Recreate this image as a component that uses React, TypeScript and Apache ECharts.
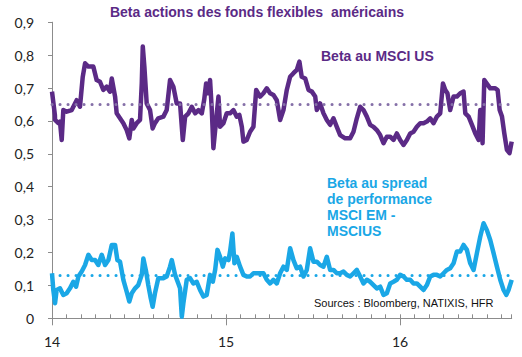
import React, { useEffect, useRef } from "react";
import * as echarts from "echarts";

// x = months since January 2014
const purpleMonths = [0, 0.2, 0.21, 0.44, 0.55, 0.67, 0.78, 1.01, 1.36, 1.7, 1.93, 2.12, 2.28, 2.51, 2.85, 3.08, 3.31, 3.54, 3.77, 4.0, 4.12, 4.35, 4.46, 4.69, 4.92, 5.15, 5.33, 5.5, 5.61, 5.84, 6.07, 6.19, 6.26, 6.37, 6.53, 6.76, 6.94, 7.1, 7.33, 7.68, 7.91, 8.14, 8.37, 8.6, 8.83, 9.02, 9.18, 9.41, 9.64, 9.87, 10.1, 10.33, 10.49, 10.63, 10.79, 10.9, 11.02, 11.13, 11.32, 11.48, 11.59, 11.82, 12.05, 12.28, 12.51, 12.74, 12.92, 13.09, 13.2, 13.43, 13.66, 13.89, 14.08, 14.35, 14.58, 14.81, 15.04, 15.27, 15.5, 15.73, 15.96, 16.19, 16.42, 16.65, 16.88, 17.06, 17.22, 17.46, 17.69, 17.92, 18.15, 18.26, 18.49, 18.72, 18.95, 19.18, 19.41, 19.64, 19.87, 20.22, 20.56, 20.79, 21.02, 21.25, 21.48, 21.71, 21.94, 22.17, 22.4, 22.63, 22.86, 23.09, 23.32, 23.55, 23.78, 24.01, 24.24, 24.47, 24.7, 24.93, 25.16, 25.39, 25.62, 25.85, 26.08, 26.31, 26.54, 26.77, 26.96, 27.12, 27.27, 27.46, 27.69, 27.92, 28.15, 28.38, 28.5, 28.73, 28.96, 29.19, 29.42, 29.53, 29.62, 29.69, 29.81, 30.22, 30.57, 30.73, 30.87, 31.03, 31.19, 31.37, 31.55, 31.7];
const purpleValues = [0.689, 0.618, 0.603, 0.593, 0.598, 0.542, 0.633, 0.628, 0.633, 0.663, 0.643, 0.734, 0.775, 0.765, 0.765, 0.724, 0.719, 0.694, 0.704, 0.689, 0.729, 0.674, 0.623, 0.608, 0.593, 0.572, 0.547, 0.603, 0.577, 0.593, 0.603, 0.714, 0.826, 0.765, 0.653, 0.633, 0.577, 0.593, 0.608, 0.613, 0.633, 0.724, 0.704, 0.653, 0.653, 0.542, 0.613, 0.623, 0.643, 0.623, 0.633, 0.623, 0.663, 0.714, 0.684, 0.724, 0.633, 0.517, 0.603, 0.674, 0.582, 0.593, 0.623, 0.623, 0.633, 0.613, 0.618, 0.582, 0.537, 0.542, 0.567, 0.582, 0.694, 0.674, 0.684, 0.699, 0.684, 0.679, 0.663, 0.603, 0.633, 0.694, 0.734, 0.745, 0.755, 0.78, 0.734, 0.729, 0.694, 0.689, 0.674, 0.633, 0.653, 0.623, 0.603, 0.588, 0.608, 0.582, 0.557, 0.547, 0.547, 0.567, 0.608, 0.643, 0.633, 0.613, 0.588, 0.582, 0.572, 0.557, 0.532, 0.552, 0.552, 0.542, 0.562, 0.542, 0.527, 0.542, 0.562, 0.567, 0.582, 0.593, 0.593, 0.598, 0.608, 0.593, 0.613, 0.623, 0.714, 0.694, 0.684, 0.633, 0.674, 0.674, 0.684, 0.689, 0.623, 0.613, 0.588, 0.562, 0.542, 0.633, 0.633, 0.532, 0.724, 0.699, 0.699, 0.694, 0.633, 0.613, 0.562, 0.512, 0.502, 0.537];

const cyanMonths = [0, 0.09, 0.21, 0.32, 0.55, 0.78, 1.01, 1.24, 1.47, 1.66, 1.82, 2.05, 2.28, 2.51, 2.74, 2.97, 3.19, 3.43, 3.66, 3.89, 4.12, 4.35, 4.51, 4.69, 4.92, 5.15, 5.33, 5.5, 5.73, 5.95, 6.19, 6.3, 6.49, 6.64, 6.81, 6.94, 7.1, 7.33, 7.68, 7.91, 8.14, 8.26, 8.49, 8.71, 8.83, 8.95, 9.06, 9.29, 9.52, 9.75, 9.98, 10.21, 10.44, 10.67, 10.9, 11.09, 11.25, 11.41, 11.59, 11.78, 11.94, 12.17, 12.28, 12.44, 12.58, 12.74, 12.97, 13.2, 13.43, 13.66, 13.89, 14.12, 14.35, 14.58, 14.81, 15.04, 15.27, 15.5, 15.73, 15.96, 16.19, 16.42, 16.65, 16.88, 17.11, 17.34, 17.57, 17.8, 18.03, 18.26, 18.49, 18.72, 18.95, 19.18, 19.41, 19.64, 19.87, 20.1, 20.33, 20.56, 20.79, 21.02, 21.25, 21.48, 21.71, 21.94, 22.17, 22.4, 22.63, 22.86, 23.09, 23.32, 23.55, 23.78, 24.01, 24.24, 24.47, 24.7, 24.93, 25.16, 25.39, 25.62, 25.85, 26.08, 26.31, 26.54, 26.77, 27.0, 27.23, 27.46, 27.69, 27.92, 28.15, 28.38, 28.61, 28.84, 29.07, 29.3, 29.53, 29.76, 29.99, 30.22, 30.45, 30.68, 30.91, 31.14, 31.33, 31.48, 31.7];
const cyanValues = [0.137, 0.086, 0.046, 0.086, 0.091, 0.071, 0.076, 0.091, 0.111, 0.096, 0.127, 0.142, 0.162, 0.193, 0.177, 0.177, 0.162, 0.193, 0.162, 0.177, 0.223, 0.223, 0.177, 0.172, 0.117, 0.081, 0.051, 0.076, 0.091, 0.101, 0.132, 0.182, 0.142, 0.101, 0.061, 0.035, 0.076, 0.122, 0.122, 0.127, 0.157, 0.177, 0.132, 0.106, 0.091, 0.005, 0.046, 0.117, 0.122, 0.106, 0.111, 0.086, 0.066, 0.071, 0.132, 0.111, 0.147, 0.208, 0.187, 0.157, 0.182, 0.177, 0.203, 0.258, 0.167, 0.187, 0.157, 0.132, 0.127, 0.127, 0.137, 0.137, 0.137, 0.137, 0.117, 0.106, 0.117, 0.106, 0.137, 0.157, 0.147, 0.213, 0.177, 0.152, 0.157, 0.127, 0.147, 0.213, 0.172, 0.172, 0.162, 0.157, 0.187, 0.147, 0.147, 0.137, 0.137, 0.142, 0.132, 0.127, 0.137, 0.147, 0.127, 0.106, 0.117, 0.111, 0.101, 0.091, 0.096, 0.071, 0.076, 0.106, 0.111, 0.117, 0.132, 0.127, 0.117, 0.117, 0.106, 0.106, 0.096, 0.086, 0.101, 0.127, 0.132, 0.132, 0.127, 0.137, 0.147, 0.152, 0.167, 0.203, 0.203, 0.223, 0.208, 0.167, 0.147, 0.198, 0.248, 0.289, 0.268, 0.238, 0.198, 0.157, 0.117, 0.086, 0.071, 0.086, 0.117];

const purpleAverage = 0.645;
const cyanAverage = 0.132;

const yearLabels: Record<number, string> = { 0: "14", 12: "15", 24: "16" };
const xMax = 31.7;

const PURPLE = "#5B2A86";
const CYAN = "#1AA7E6";

export default function App() {
  const ref = useRef<HTMLDivElement>(null);
  useEffect(() => {
    if (!ref.current) return;
    const chart = echarts.init(ref.current, undefined, { renderer: "svg" });
    chart.setOption({
      animation: false,
      grid: { left: 52, right: 10.3, top: 22.2, bottom: 38.7 },
      xAxis: [
        {
          type: "value",
          min: 0,
          max: xMax,
          interval: 12,
          axisLine: { show: true, lineStyle: { color: "#8c8c8c", width: 1 } },
          axisTick: { show: true, length: 7, lineStyle: { color: "#8c8c8c" } },
          axisLabel: {
            show: true,
            margin: 16,
            fontSize: 14,
            fontFamily: "Lato",
            color: "#222",
            showMaxLabel: false,
            formatter: (v: number) => yearLabels[v] ?? "",
          },
          splitLine: { show: false },
        },
        {
          type: "value",
          position: "bottom",
          min: 0,
          max: xMax,
          interval: 1,
          axisLine: { show: false },
          axisTick: { show: true, inside: true, length: 4, lineStyle: { color: "#8c8c8c" } },
          axisLabel: { show: false },
          splitLine: { show: false },
        },
      ],
      yAxis: {
        type: "value",
        min: 0,
        max: 0.9,
        interval: 0.1,
        axisLine: { show: true, lineStyle: { color: "#8c8c8c", width: 1 } },
        axisTick: { show: true, length: 4, lineStyle: { color: "#8c8c8c" } },
        axisLabel: {
          margin: 18,
          fontSize: 14,
          fontFamily: "Lato",
          color: "#222",
          formatter: (v: number) => (Math.round(v * 10) / 10).toString().replace(".", ","),
        },
        splitLine: { show: false },
      },
      series: [
        {
          type: "line",
          name: "Beta au MSCI US",
          data: purpleMonths.map((m, i) => [m, purpleValues[i]]),
          showSymbol: false,
          lineStyle: { color: PURPLE, width: 4.5, join: "round" },
          z: 3,
          markLine: {
            silent: true,
            symbol: "none",
            label: { show: false },
            lineStyle: { color: "#8570A8", width: 3, type: [0.1, 7.9], cap: "round" },
            data: [{ yAxis: purpleAverage }],
          },
        },
        {
          type: "line",
          name: "Beta au spread",
          data: cyanMonths.map((m, i) => [m, cyanValues[i]]),
          showSymbol: false,
          lineStyle: { color: CYAN, width: 4.5, join: "round" },
          z: 3,
          markLine: {
            silent: true,
            symbol: "none",
            label: { show: false },
            lineStyle: { color: CYAN, width: 3, type: [0.1, 7.9], cap: "round" },
            data: [{ yAxis: cyanAverage }],
          },
        },
      ],
      graphic: [
        {
          type: "text",
          x: 257,
          y: 12,
          style: {
            text: "Beta actions des fonds flexibles  américains",
            fill: PURPLE,
            font: "bold 14px 'Liberation Sans', Arial, sans-serif",
            textAlign: "center",
            textVerticalAlign: "middle",
          },
        },
        {
          type: "text",
          x: 321,
          y: 56,
          style: {
            text: "Beta au MSCI US",
            fill: PURPLE,
            font: "bold 14px 'Liberation Sans', Arial, sans-serif",
            textAlign: "left",
            textVerticalAlign: "middle",
          },
        },
        {
          type: "text",
          x: 327,
          y: 174.5,
          style: {
            text: "Beta au spread\nde performance\nMSCI EM -\nMSCIUS",
            fill: CYAN,
            font: "bold 14px 'Liberation Sans', Arial, sans-serif",
            lineHeight: 16,
            textAlign: "left",
            textVerticalAlign: "top",
          },
        },
        {
          type: "text",
          x: 314,
          y: 303,
          z: 10,
          style: {
            text: "Sources : Bloomberg, NATIXIS, HFR",
            fill: "#111",
            font: "11px 'Liberation Sans', Arial, sans-serif",
            textAlign: "left",
            textVerticalAlign: "middle",
          },
        },
      ],
    });
    return () => chart.dispose();
  }, []);
  return (
    <div
      ref={ref}
      style={{ position: "fixed", left: 0, top: 0, width: 522, height: 357, background: "#fff" }}
    />
  );
}
